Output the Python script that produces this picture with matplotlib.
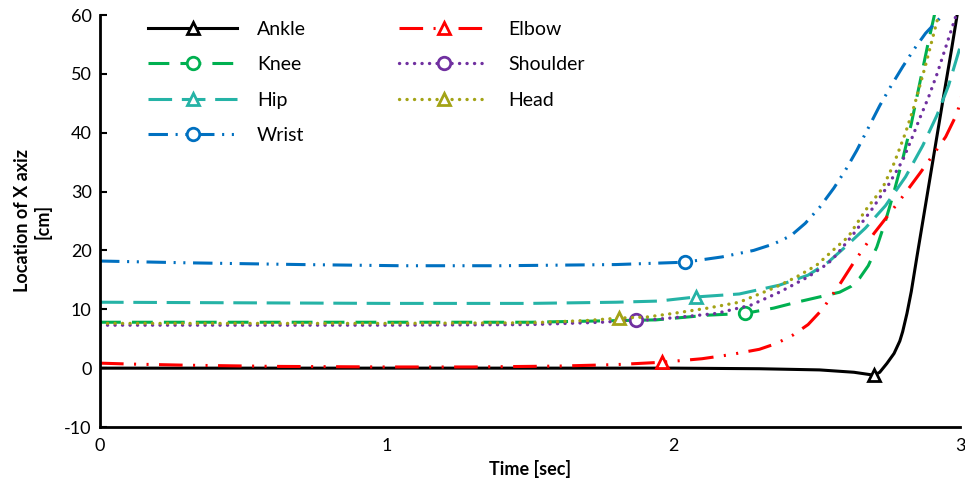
import numpy as np
import matplotlib
matplotlib.use("Agg")
import matplotlib.pyplot as plt

plt.rcParams['font.family'] = ['Lato', 'DejaVu Sans']
plt.rcParams['axes.unicode_minus'] = False
plt.rcParams['lines.scale_dashes'] = False

# time [sec] / x-location [cm] for each joint
ankle_t = [0, 0.5, 1.0, 1.5, 2.0, 2.3, 2.51, 2.63, 2.70, 2.72, 2.745, 2.77, 2.79, 2.80, 2.815,
           2.83, 2.85, 2.88, 2.91, 2.94, 2.97, 3.0]
ankle_x = [0, 0, 0, 0, 0, -0.1, -0.3, -0.7, -1.2, -0.7, 0.8, 2.5, 4.6, 6.2, 9.3,
           13.0, 19, 27.8, 36.6, 45.4, 54, 63]
ankle_mark = 8

elbow_t = [0, 0.1, 0.3, 0.6, 1.0, 1.3, 1.6, 1.8, 1.96, 2.1, 2.2, 2.3, 2.36, 2.42, 2.47,
           2.52, 2.58, 2.63, 2.70, 2.79, 2.86, 2.91, 2.95, 2.99, 3.01]
elbow_x = [0.85, 0.7, 0.5, 0.3, 0.2, 0.2, 0.35, 0.6, 1.0, 1.6, 2.3, 3.2, 4.2, 5.7, 7.4,
           10.0, 14.2, 18.0, 22.9, 28.5, 33.1, 36.5, 39.3, 43.3, 47]
elbow_mark = 8

knee_t = [0, 0.5, 1.0, 1.5, 1.94, 2.12, 2.25, 2.35, 2.43, 2.51, 2.58, 2.62, 2.65, 2.68,
          2.71, 2.74, 2.77, 2.80, 2.83, 2.86, 2.89, 2.92]
knee_x = [7.8, 7.8, 7.8, 7.8, 8.2, 9.0, 9.3, 10.2, 11.2, 12.1, 12.9, 13.9, 15.3, 17.4,
          20.6, 25.0, 30.0, 35.5, 41.5, 48.5, 55.5, 62.0]
knee_mark = 6

shoulder_t = [0, 0.5, 1.0, 1.5, 1.75, 1.87, 1.92, 2.03, 2.15, 2.27, 2.37, 2.47, 2.54, 2.57,
              2.63, 2.69, 2.75, 2.80, 2.83, 2.86, 2.89, 2.92, 2.95, 2.98, 3.0]
shoulder_x = [7.3, 7.3, 7.3, 7.4, 7.8, 8.2, 8.2, 8.7, 9.3, 10.7, 12.9, 15.5, 17.8, 19.3,
              22.9, 26.8, 31.1, 35.3, 38.8, 42.5, 46.0, 50.0, 54.5, 59.0, 62.0]
shoulder_mark = 5

hip_t = [0, 0.5, 1.0, 1.5, 1.8, 1.95, 2.08, 2.23, 2.37, 2.47, 2.54, 2.60, 2.67, 2.74,
         2.81, 2.87, 2.92, 2.96, 3.0]
hip_x = [11.2, 11.1, 11.0, 11.0, 11.2, 11.4, 12.1, 12.6, 14.1, 15.8, 18.0, 20.6, 23.8, 27.6,
         32.5, 37.8, 43.0, 48.0, 54.5]
hip_mark = 6

head_t = [0, 0.5, 1.0, 1.5, 1.7, 1.81, 1.91, 2.0, 2.12, 2.23, 2.35, 2.43, 2.50, 2.57,
          2.61, 2.67, 2.73, 2.77, 2.81, 2.84, 2.88, 2.92, 2.95]
head_x = [7.6, 7.6, 7.6, 7.7, 8.1, 8.5, 8.7, 9.3, 10.2, 11.2, 13.6, 15.5, 17.5, 20.6,
          22.3, 26.8, 30.6, 34.8, 40.0, 44.5, 51.5, 59.0, 65.0]
head_mark = 5

wrist_t = [0, 0.3, 0.7, 1.05, 1.4, 1.8, 2.04, 2.17, 2.28, 2.35, 2.41, 2.46, 2.51, 2.56,
           2.60, 2.64, 2.68, 2.72, 2.76, 2.80, 2.84, 2.88, 2.94, 3.0]
wrist_x = [18.2, 17.9, 17.6, 17.4, 17.4, 17.6, 18.0, 18.9, 20.0, 21.1, 22.5, 24.6, 27.3, 30.6,
           33.6, 37.0, 40.8, 44.6, 48.0, 51.2, 54.2, 56.9, 60.0, 63.0]
wrist_mark = 6

fig = plt.figure(figsize=(9.65, 4.8), dpi=100)
ax = fig.add_axes([100 / 965, 53 / 480, 860 / 965, 412 / 480])

lw = 2.2
ms = 9
dots = dict(dashes=(0.1, 5.3), dash_capstyle='round', linewidth=2.4)

series = [
    ("Ankle", ankle_t, ankle_x, ankle_mark, 'black', '^', dict(linestyle='-')),
    ("Knee", knee_t, knee_x, knee_mark, '#00B050', 'o', dict(dashes=(15, 8))),
    ("Hip", hip_t, hip_x, hip_mark, '#25B3A6', '^', dict(dashes=(17, 7))),
    ("Wrist", wrist_t, wrist_x, wrist_mark, '#0070C0', 'o',
     dict(dashes=(14, 5.5, 1.5, 5.5, 1.5, 5.5))),
    ("Elbow", elbow_t, elbow_x, elbow_mark, '#FF0000', '^',
     dict(dashes=(17, 7.5, 1.5, 7.5, 1.5, 7.5))),
    ("Shoulder", shoulder_t, shoulder_x, shoulder_mark, '#7030A0', 'o', dots),
    ("Head", head_t, head_x, head_mark, '#A3A316', '^', dots),
]

for name, t, x, mk, color, marker, style in series:
    kw = dict(linewidth=lw)
    kw.update(style)
    ax.plot(t, x, color=color, marker=marker, markevery=[mk], markersize=ms,
            markerfacecolor='white', markeredgecolor=color, markeredgewidth=2,
            label=name, **kw)

ax.set_xlim(0, 3)
ax.set_ylim(-10, 60)
ax.set_xticks([0, 1, 2, 3])
ax.set_yticks(np.arange(-10, 61, 10))
ax.tick_params(axis='y', direction='in', length=5, width=1.5, labelsize=13, pad=6)
ax.tick_params(axis='x', length=0, labelsize=13, pad=8)
for s in ['top', 'right']:
    ax.spines[s].set_visible(False)
for s in ['left', 'bottom']:
    ax.spines[s].set_linewidth(2)

ax.set_xlabel("Time [sec]", fontsize=13, fontweight='bold', labelpad=4)
ax.set_ylabel("Location of X axiz\n[cm]", fontsize=13, fontweight='bold', labelpad=9)

ax.legend(loc='upper left', bbox_to_anchor=(0.0558, 0.986), ncol=2, frameon=False,
          fontsize=14, handlelength=4.6, handletextpad=1.0, columnspacing=4.8,
          labelspacing=0.95, borderaxespad=0, borderpad=0, numpoints=1)

fig.savefig("out.png", dpi=100)
